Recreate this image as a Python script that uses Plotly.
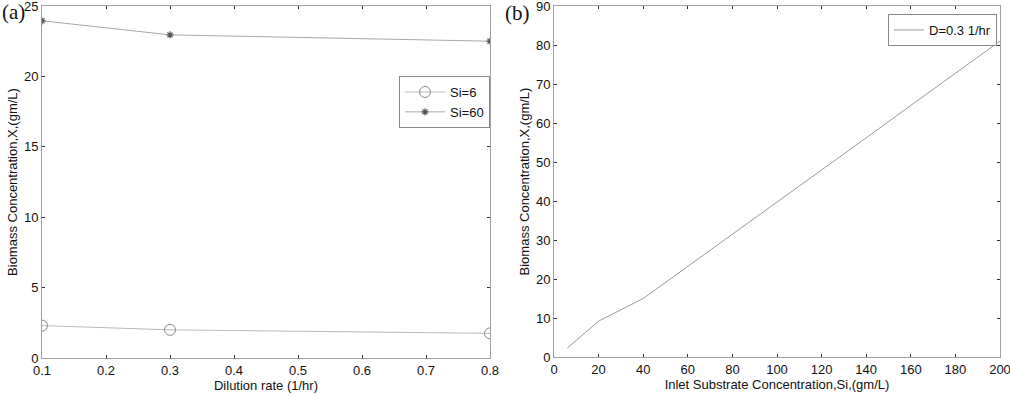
import plotly.graph_objects as go

# Panel (a)
D = [0.1, 0.3, 0.8]
X_si6 = [2.3, 2.0, 1.75]
X_si60 = [23.95, 22.95, 22.5]

# Panel (b)
Si = [6, 20, 40, 60, 80, 100, 120, 140, 160, 180, 200]
X_D03 = [2.3, 9.2, 15.0, 23.2, 31.4, 39.7, 48.0, 56.2, 64.5, 72.8, 81.0]

# Tick labels
xa_ticks = [0.1, 0.2, 0.3, 0.4, 0.5, 0.6, 0.7, 0.8]
ya_ticks = [0, 5, 10, 15, 20, 25]
xb_ticks = [0, 20, 40, 60, 80, 100, 120, 140, 160, 180, 200]
yb_ticks = [0, 10, 20, 30, 40, 50, 60, 70, 80, 90]

W, H = 1010, 396

def px_x(p):
    return p / W

def px_y(p):
    return 1 - p / H

EPS = 1e-6

fig = go.Figure()
fig.add_trace(go.Scatter(x=D, y=X_si6, mode="lines+markers", name="Si=6",
                         line=dict(color="#b8b8b8", width=1),
                         marker=dict(symbol="circle-open", size=11, color="#8a8a8a", line=dict(width=1)),
                         xaxis="x", yaxis="y", legend="legend"))
fig.add_trace(go.Scatter(x=D, y=X_si60, mode="lines+markers", name="Si=60",
                         line=dict(color="#a8a8a8", width=1),
                         marker=dict(symbol="asterisk-open", size=6, color="#555555", line=dict(width=1.2, color="#555555")),
                         xaxis="x", yaxis="y", legend="legend"))
fig.add_trace(go.Scatter(x=Si, y=X_D03, mode="lines", name="D=0.3 1/hr",
                         line=dict(color="#9a9a9a", width=1),
                         xaxis="x2", yaxis="y2", legend="legend2"))

axis_common = dict(showgrid=False, zeroline=False, ticks="inside", ticklen=3,
                   tickcolor="#333333", tickwidth=1, showline=True, linecolor="#a0a0a0",
                   linewidth=1, mirror="ticks", automargin=False, ticklabeloverflow="allow",
                   tickfont=dict(family="Liberation Sans, Arial", size=13, color="#111111"),
                   title_font=dict(family="Liberation Sans, Arial", size=13, color="#111111"))

fig.update_layout(
    width=W, height=H,
    margin=dict(l=0, r=0, t=0, b=0),
    paper_bgcolor="white", plot_bgcolor="white",
    showlegend=True,
    xaxis=dict(domain=[px_x(42), px_x(490)], range=[0.1 - EPS, 0.8 + EPS], tickvals=xa_ticks,
               ticktext=[f"{v:.1f}" for v in xa_ticks],
               title=dict(text="Dilution rate (1/hr)", standoff=2), anchor="y", **axis_common),
    yaxis=dict(domain=[px_y(358), px_y(6)], range=[0 - EPS, 25 + EPS], tickvals=ya_ticks,
               title=dict(text="Biomass Concentration,X,(gm/L)", standoff=3), anchor="x", **axis_common),
    xaxis2=dict(domain=[px_x(554), px_x(1000)], range=[0 - EPS, 200 + EPS], tickvals=xb_ticks,
                title=dict(text="Inlet Substrate Concentration,Si,(gm/L)", standoff=2), anchor="y2", **axis_common),
    yaxis2=dict(domain=[px_y(357), px_y(6)], range=[0 - EPS, 90 + EPS], tickvals=yb_ticks,
                title=dict(text="Biomass Concentration,X,(gm/L)", standoff=3), anchor="x2", **axis_common),
    legend=dict(x=px_x(490), y=px_y(76), xanchor="right", yanchor="top",
                bgcolor="white", bordercolor="#888888", borderwidth=1,
                font=dict(family="Liberation Sans, Arial", size=13, color="#111111"),
                itemwidth=40, tracegroupgap=0),
    legend2=dict(x=px_x(997), y=px_y(14), xanchor="right", yanchor="top",
                 bgcolor="white", bordercolor="#888888", borderwidth=1,
                 font=dict(family="Liberation Sans, Arial", size=13, color="#111111"),
                 itemwidth=30),
    annotations=[
        dict(text="(a)", x=0, y=px_y(12), xref="paper", yref="paper", xanchor="left", yanchor="middle",
             showarrow=False, font=dict(family="Liberation Serif, Times New Roman", size=21, color="#111111")),
        dict(text="(b)", x=px_x(503), y=px_y(13), xref="paper", yref="paper", xanchor="left", yanchor="middle",
             showarrow=False, font=dict(family="Liberation Serif, Times New Roman", size=21, color="#111111")),
    ],
)

fig.write_html("out.html", config={"displayModeBar": False},
               post_script="document.body.style.margin='0';document.body.style.overflow='hidden';")
